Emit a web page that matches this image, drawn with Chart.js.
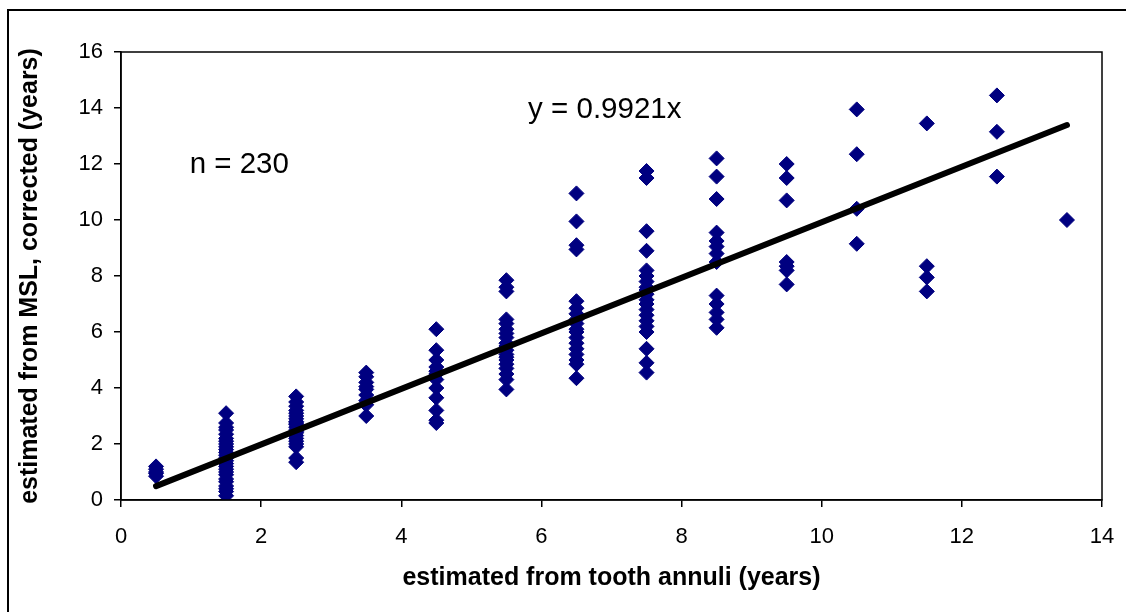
<!DOCTYPE html>
<html>
<head>
<meta charset="utf-8">
<script src="https://cdn.jsdelivr.net/npm/chart.js@4.4.1/dist/chart.umd.min.js"></script>
<style>
  body { margin: 0; background: #fff; }
  #wrap { width: 1126px; height: 612px; }
</style>
</head>
<body>
<div id="wrap"><canvas id="chart" width="1126" height="612"></canvas></div>
<script>
// age estimated from tooth annuli (x), one column per class
const toothAges = [0.5, 1.5, 2.5, 3.5, 4.5, 5.5, 6.5, 7.5, 8.5, 9.5, 10.5, 11.5, 12.5, 13.5];

// age estimated from MSL, corrected (y) for each column
const msl05 = [0.85, 0.95, 1.0, 1.1, 1.2];
const msl15 = [3.1, 2.75, 2.6, 2.5, 2.35, 2.2, 2.1, 2.0, 1.9, 1.8, 1.7, 1.6, 1.5, 1.4, 1.3, 1.2, 1.1, 1.0, 0.9, 0.75, 0.65, 0.5, 0.4, 0.3, 0.15];
const msl25 = [3.7, 3.5, 3.35, 3.2, 3.1, 3.0, 2.9, 2.8, 2.75, 2.7, 2.6, 2.5, 2.45, 2.4, 2.3, 2.2, 2.1, 2.0, 1.9, 1.5, 1.35];
const msl35 = [4.55, 4.4, 4.2, 4.05, 3.95, 3.75, 3.55, 3.4, 3.0];
const msl45 = [6.1, 5.35, 5.0, 4.75, 4.6, 4.5, 4.3, 4.0, 3.65, 3.2, 2.85, 2.75];
const msl55 = [7.85, 7.6, 7.45, 6.45, 6.3, 6.1, 5.95, 5.8, 5.6, 5.5, 5.35, 5.2, 5.1, 5.0, 4.85, 4.7, 4.5, 4.3, 3.95];
const msl65 = [10.95, 9.95, 9.1, 8.95, 7.1, 6.85, 6.65, 6.45, 6.3, 6.1, 6.0, 5.8, 5.6, 5.4, 5.2, 5.0, 4.85, 4.35];
const msl75 = [11.75, 11.5, 9.6, 8.9, 8.2, 8.0, 7.8, 7.6, 7.5, 7.35, 7.15, 7.0, 6.8, 6.6, 6.4, 6.2, 6.0, 5.4, 4.9, 4.55];
const msl85 = [12.2, 11.55, 10.75, 9.55, 9.25, 9.05, 8.8, 8.5, 7.3, 7.0, 6.7, 6.45, 6.15];
const msl95 = [12.0, 11.5, 10.7, 8.5, 8.35, 8.2, 7.7];
const msl105 = [13.95, 12.35, 10.4, 9.15];
const msl115 = [13.45, 8.35, 7.95, 7.45];
const msl125 = [14.45, 13.15, 11.55];
const msl135 = [10.0];

// trend line y = 0.9921x, end points
const trendX = [0.5, 13.5];
const trendY = [0.496, 13.393];

const xTicks = [0, 2, 4, 6, 8, 10, 12, 14];
const yTicks = [0, 2, 4, 6, 8, 10, 12, 14, 16];

const columns = [msl05, msl15, msl25, msl35, msl45, msl55, msl65, msl75, msl85, msl95, msl105, msl115, msl125, msl135];

let points = [];
columns.forEach(function(col, i) {
    col.forEach(function(v) {
        points.push({x: toothAges[i], y: v});
    });
});
const trendPoints = trendX.map(function(x, i) { return {x: x, y: trendY[i]}; });

const FONT = "'Liberation Sans', Arial, sans-serif";

// frame, plot box and the two text notes
const extras = {
    id: 'extras',
    beforeDraw(chart) {
        const ctx = chart.ctx;
        ctx.save();
        ctx.fillStyle = '#fff';
        ctx.fillRect(0, 0, chart.width, chart.height);
        ctx.strokeStyle = '#000';
        ctx.lineWidth = 2;
        ctx.beginPath();
        ctx.moveTo(8, 612);
        ctx.lineTo(8, 10);
        ctx.lineTo(1126, 10);
        ctx.stroke();
        ctx.restore();
    },
    afterDraw(chart) {
        const ctx = chart.ctx;
        const a = chart.chartArea;
        const xs = chart.scales.x, ys = chart.scales.y;
        ctx.save();
        ctx.strokeStyle = '#000';
        ctx.lineWidth = 1.5;
        ctx.strokeRect(a.left, a.top, a.right - a.left, a.bottom - a.top);
        ctx.fillStyle = '#000';
        ctx.font = '29.5px ' + FONT;
        ctx.textBaseline = 'middle';
        ctx.fillText('n = 230', xs.getPixelForValue(0.98), ys.getPixelForValue(11.96));
        ctx.fillText('y = 0.9921x', xs.getPixelForValue(5.81), ys.getPixelForValue(13.93));
        ctx.restore();
    }
};

const ctx = document.getElementById('chart').getContext('2d');

const data = {
    datasets: [
        {
            type: 'line',
            data: trendPoints,
            borderColor: '#000',
            borderWidth: 6,
            borderCapStyle: 'round',
            pointRadius: 0,
            fill: false,
            order: 0,
        },
        {
            type: 'scatter',
            data: points,
            pointStyle: 'rectRot',
            pointRadius: 7.5,
            pointBackgroundColor: '#000080',
            pointBorderColor: '#000080',
            pointBorderWidth: 1,
            order: 1,
        },
    ],
};

const config = {
    type: 'scatter',
    data: data,
    options: {
        responsive: false,
        animation: false,
        layout: { padding: { left: 0, right: 24, top: 52, bottom: 0 } },
        plugins: { legend: { display: false }, tooltip: { enabled: false } },
        scales: {
            x: {
                type: 'linear',
                min: 0,
                max: 14,
                afterBuildTicks: (s) => { s.ticks = xTicks.map(v => ({value: v})); },
                afterFit: (s) => { s.height = 112; s.paddingLeft = 0; s.paddingRight = 0; },
                grid: { display: true, drawOnChartArea: false, drawTicks: true, tickLength: 7, color: '#000', lineWidth: 1.5 },
                border: { display: true, color: '#000', width: 1.5 },
                ticks: { color: '#000', padding: 17, font: { family: FONT, size: 22 } },
                title: {
                    display: true,
                    text: 'estimated from tooth annuli (years)',
                    color: '#000',
                    font: { family: FONT, size: 25, weight: 'bold' },
                    padding: { top: 0, bottom: 19 },
                },
            },
            y: {
                type: 'linear',
                min: 0,
                max: 16,
                afterBuildTicks: (s) => { s.ticks = yTicks.map(v => ({value: v})); },
                afterFit: (s) => { s.width = 121; s.paddingTop = 0; s.paddingBottom = 0; },
                grid: { display: true, drawOnChartArea: false, drawTicks: true, tickLength: 7, color: '#000', lineWidth: 1.5 },
                border: { display: true, color: '#000', width: 1.5 },
                ticks: { color: '#000', padding: 11, font: { family: FONT, size: 22 } },
                title: {
                    display: true,
                    text: 'estimated from MSL, corrected (years)',
                    color: '#000',
                    font: { family: FONT, size: 25, weight: 'bold' },
                    padding: { top: 15, bottom: 0 },
                },
            },
        },
    },
    plugins: [extras],
};

const myChart = new Chart(ctx, config);
</script>
</body>
</html>
